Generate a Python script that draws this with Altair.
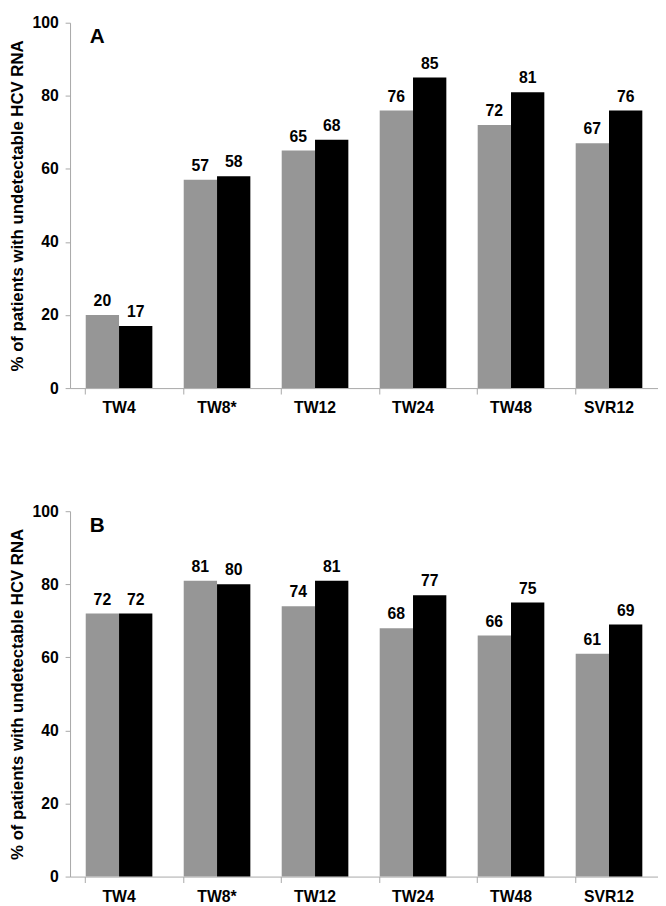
import altair as alt
import pandas as pd

categories = ["TW4", "TW8*", "TW12", "TW24", "TW48", "SVR12"]
series = ["Group 1", "Group 2"]
a_gray = [20, 57, 65, 76, 72, 67]
a_black = [17, 58, 68, 85, 81, 76]
b_gray = [72, 81, 74, 68, 66, 61]
b_black = [72, 80, 81, 77, 75, 69]
panel_letters = ["A", "B"]
y_title = "% of patients with undetectable HCV RNA"
y_ticks = [0, 20, 40, 60, 80, 100]
colors = ["#969696", "#000000"]

FONT = "Liberation Sans"
AX = "#a8a8a8"
W = 597
H = 371


def make_df(gray, black):
    rows = []
    for c, g, b in zip(categories, gray, black):
        rows.append({"cat": c, "series": series[0], "value": g})
        rows.append({"cat": c, "series": series[1], "value": b})
    return pd.DataFrame(rows)


def panel(df, letter):
    base = alt.Chart(df).encode(
        x=alt.X(
            "cat:N",
            sort=categories,
            title=None,
            scale=alt.Scale(paddingInner=0.32, paddingOuter=0.16),
            axis=alt.Axis(
                labelAngle=0,
                labelFont=FONT,
                labelFontWeight="bold",
                labelFontSize=16,
                labelColor="black",
                domainColor=AX,
                tickColor=AX,
                tickSize=6,
                bandPosition=0,
                labelPadding=6,
            ),
        ),
        xOffset=alt.XOffset("series:N", sort=series,
                            scale=alt.Scale(paddingInner=0, paddingOuter=0)),
        y=alt.Y(
            "value:Q",
            scale=alt.Scale(domain=[0, 100]),
            axis=alt.Axis(
                values=y_ticks,
                grid=False,
                title=y_title,
                titleFont=FONT,
                titleFontWeight="bold",
                titleFontSize=17,
                titleColor="black",
                titlePadding=6,
                labelFont=FONT,
                labelFontWeight="bold",
                labelFontSize=16,
                labelColor="black",
                labelPadding=7,
                domainColor=AX,
                tickColor=AX,
                tickSize=5,
            ),
        ),
    )
    bars = base.mark_bar().encode(
        color=alt.Color("series:N", sort=series,
                        scale=alt.Scale(domain=series, range=colors), legend=None)
    )
    text = base.mark_text(
        baseline="bottom", dy=-6, font=FONT, fontWeight="bold", fontSize=16, color="black"
    ).encode(text="value:Q")
    lab = alt.Chart(pd.DataFrame({"t": [letter]})).mark_text(
        align="left", baseline="alphabetic", font=FONT, fontWeight="bold", fontSize=21, color="black"
    ).encode(x=alt.value(20), y=alt.value(21), text="t:N")
    return alt.layer(bars, text, lab).properties(width=W, height=H)


chart = alt.vconcat(
    panel(make_df(a_gray, a_black), panel_letters[0]),
    panel(make_df(b_gray, b_black), panel_letters[1]),
    spacing=89,
).configure_view(stroke=None).properties(background="white", padding=0)

chart.save("out.html", embed_options={"renderer": "svg", "actions": False})
